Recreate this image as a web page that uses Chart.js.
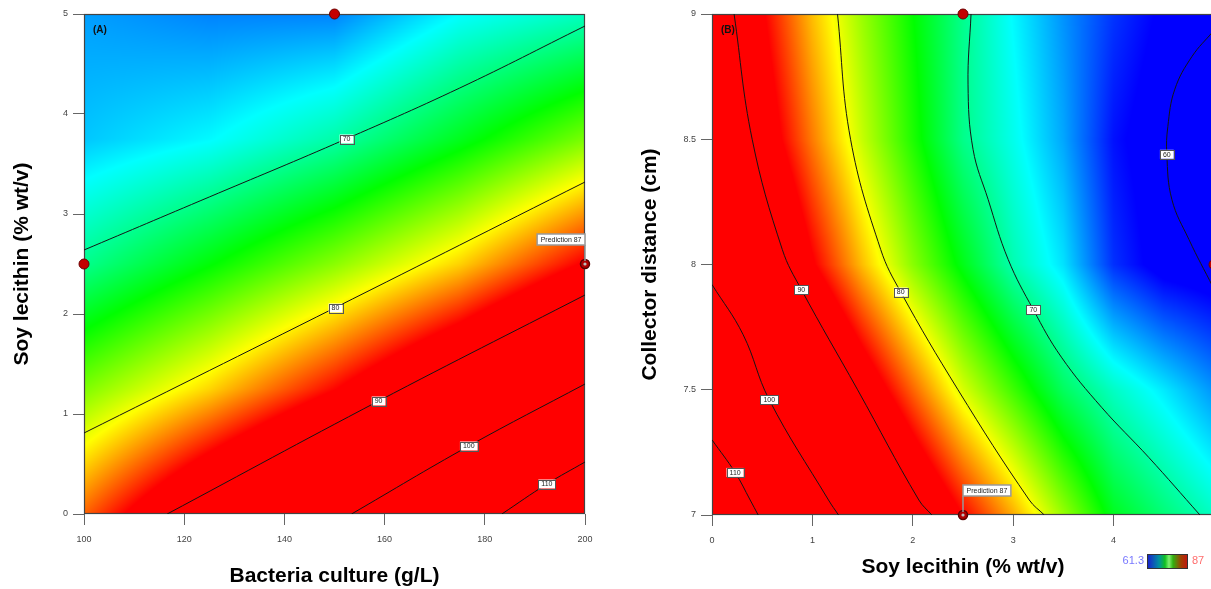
<!DOCTYPE html>
<html>
<head>
<meta charset="utf-8">
<script src="https://cdn.jsdelivr.net/npm/chart.js@4.4.1/dist/chart.umd.min.js"></script>
<style>
  html, body { margin: 0; padding: 0; background: #fff; overflow: hidden; width: 1211px; height: 589px; }
  #wrapA { position: absolute; left: 0; top: 0; width: 612px; height: 589px; }
  #wrapB { position: absolute; left: 620px; top: 0; width: 600px; height: 589px; }
</style>
</head>
<body>
<div id="wrapA"><canvas id="chartA"></canvas></div>
<div id="wrapB"><canvas id="chartB"></canvas></div>
<script>
// ---- panel (A): bacteria culture vs soy lecithin ----
const cultureA = [100, 125, 150, 175, 200];
const lecithinA = [0, 1.25, 2.5, 3.75, 5];
const yieldA = [
  [84.5, 92.3, 99.1, 107.2, 116.0],
  [77.3, 81.6, 86.9, 93.0, 99.7],
  [70.6, 74.0, 77.6, 81.7, 87.3],
  [66.3, 67.6, 69.9, 73.4, 77.2],
  [65.3, 64.6, 64.6, 67.7, 69.3]
];
const ticksAx = [100, 120, 140, 160, 180, 200];
const ticksAy = [0, 1, 2, 3, 4, 5];
const contourA70 = [[100, 2.64], [125, 3.17], [150, 3.70], [175, 4.26], [200, 4.88]];
const contourA80 = [[100, 0.81], [150, 2.06], [200, 3.32]];
const contourA90 = [[116.6, 0], [158.8, 1.13], [200, 2.19]];
const contourA100 = [[153.4, 0], [176.8, 0.68], [200, 1.30]];
const contourA110 = [[183.4, 0], [192.4, 0.30], [200, 0.52]];
const labelA_level = [70, 80, 90, 100, 110];
const labelA_x = [152.4, 150.2, 158.8, 176.8, 192.4];
const labelA_y = [3.75, 2.06, 1.13, 0.68, 0.30];
const designA_x = [150, 100];
const designA_y = [5, 2.5];
const predA_x = 200, predA_y = 2.5, predA_value = 87;

// ---- panel (B): soy lecithin vs collector distance ----
const lecithinB = [0, 0.5, 1, 1.5, 2, 2.5, 3, 3.5, 4, 4.5, 5];
const distanceB = [7, 7.5, 8, 8.5, 9];
const yieldB = [
  [115.7, 109.5, 103.3, 97.4, 91.7, 87.0, 82.7, 78.0, 73.4, 71.2, 69.2],
  [106.8, 100.3, 94.9, 89.5, 84.5, 79.6, 75.7, 71.8, 69.2, 67.2, 65.0],
  [99.0, 93.0, 87.3, 82.2, 77.6, 73.6, 69.7, 67.0, 62.5, 60.5, 60.0],
  [94.1, 89.0, 83.9, 79.1, 74.9, 70.7, 68.2, 65.5, 61.7, 60.1, 59.2],
  [92.3, 87.3, 82.2, 78.0, 74.2, 70.6, 67.6, 65.0, 62.6, 61.0, 60.1]
];
const ticksBx = [0, 1, 2, 3, 4];
const ticksBy = [7, 7.5, 8, 8.5, 9];
const contourB110 = [[0, 7.30], [0.23, 7.17], [0.38, 7.06], [0.46, 7.0]];
const contourB100 = [[0, 7.92], [0.31, 7.72], [0.57, 7.46], [1.16, 7.06], [1.26, 7.0]];
const contourB90 = [[0.22, 9], [0.40, 8.5], [0.70, 8.06], [0.89, 7.9], [1.45, 7.5], [2.06, 7.06], [2.19, 7.0]];
const contourB80 = [[1.25, 9], [1.38, 8.5], [1.68, 8.06], [1.88, 7.89], [2.45, 7.5], [3.16, 7.06], [3.31, 7.0]];
const contourB70 = [[2.58, 9], [2.55, 8.72], [2.60, 8.46], [2.75, 8.26], [2.95, 8.02], [3.20, 7.82], [3.48, 7.63], [3.88, 7.43], [4.35, 7.23], [4.86, 7.0]];
const contourB60 = [[4.99, 8.93], [4.78, 8.83], [4.61, 8.70], [4.54, 8.55], [4.53, 8.44], [4.58, 8.26], [4.75, 8.10], [4.99, 7.91]];
const labelB_level = [110, 100, 90, 80, 70, 60];
const labelB_x = [0.23, 0.57, 0.89, 1.88, 3.20, 4.53];
const labelB_y = [7.17, 7.46, 7.9, 7.89, 7.82, 8.44];
const designB_x = [2.5, 5];
const designB_y = [9, 8];
const predB_x = 2.5, predB_y = 7, predB_value = 87;

// colour scale limits
const scaleMin = 61.3, scaleMax = 87;

const FONT = "'Liberation Sans', Arial, sans-serif";

function yieldColor(v) {
  let t = (v - scaleMin) / (scaleMax - scaleMin);
  t = Math.max(0, Math.min(1, t));
  if (t < 0.25) return [0, 255 * t / 0.25, 255];
  if (t < 0.5) return [0, 255, 255 * (0.5 - t) / 0.25];
  if (t < 0.75) return [255 * (t - 0.5) / 0.25, 255, 0];
  return [255, 255 * (1 - t) / 0.25, 0];
}

function locate(arr, v) {
  let i = 0;
  while (i < arr.length - 2 && v > arr[i + 1]) i++;
  const t = (v - arr[i]) / (arr[i + 1] - arr[i]);
  return [i, Math.max(0, Math.min(1, t))];
}

function sample(xs, ys, grid, x, y) {
  const [i, tx] = locate(xs, x);
  const [j, ty] = locate(ys, y);
  const a = grid[j][i], b = grid[j][i + 1], c = grid[j + 1][i], d = grid[j + 1][i + 1];
  return (a * (1 - tx) + b * tx) * (1 - ty) + (c * (1 - tx) + d * tx) * ty;
}

const surfacePlugin = {
  id: 'surface',
  beforeDatasetsDraw(chart, args, opts) {
    const { ctx, chartArea: a, scales: { x, y } } = chart;
    const w = Math.round(a.right - a.left), h = Math.round(a.bottom - a.top);
    const off = document.createElement('canvas');
    off.width = w; off.height = h;
    const octx = off.getContext('2d');
    const img = octx.createImageData(w, h);
    for (let py = 0; py < h; py++) {
      const vy = y.getValueForPixel(a.top + py + 0.5);
      for (let px = 0; px < w; px++) {
        const vx = x.getValueForPixel(a.left + px + 0.5);
        const c = yieldColor(sample(opts.xs, opts.ys, opts.grid, vx, vy));
        const k = (py * w + px) * 4;
        img.data[k] = c[0]; img.data[k + 1] = c[1]; img.data[k + 2] = c[2]; img.data[k + 3] = 255;
      }
    }
    octx.putImageData(img, 0, 0);
    ctx.drawImage(off, a.left, a.top);
    // frame
    ctx.save();
    ctx.strokeStyle = '#444';
    ctx.lineWidth = 1.2;
    ctx.strokeRect(a.left + 0.5, a.top + 0.5, w - 1, h - 1);
    ctx.restore();
  },
  afterDatasetsDraw(chart, args, opts) {
    const { ctx, chartArea: a, scales: { x, y } } = chart;
    ctx.save();
    // contour labels
    ctx.font = '7px ' + FONT;
    ctx.textAlign = 'center';
    ctx.textBaseline = 'middle';
    opts.labels.level.forEach((lv, i) => {
      const px = x.getPixelForValue(opts.labels.x[i]);
      const py = y.getPixelForValue(opts.labels.y[i]);
      const tw = ctx.measureText(String(lv)).width + 6;
      ctx.fillStyle = '#fff';
      ctx.fillRect(px - tw / 2, py - 4.5, tw, 9);
      ctx.strokeStyle = '#555';
      ctx.lineWidth = 1;
      ctx.strokeRect(Math.round(px - tw / 2) + 0.5, Math.round(py - 4.5) + 0.5, Math.round(tw), 9);
      ctx.fillStyle = '#222';
      ctx.fillText(String(lv), px, py + 0.5);
    });
    // prediction flag
    const f = opts.flag;
    const fx = x.getPixelForValue(f.x), fy = y.getPixelForValue(f.y);
    const text = 'Prediction ' + f.value;
    const bw = ctx.measureText(text).width + 7, bh = 11;
    const bx = f.side === 'left' ? fx - bw : fx;
    const by = fy - 19 - bh;
    ctx.strokeStyle = '#999';
    ctx.lineWidth = 1.5;
    ctx.beginPath(); ctx.moveTo(fx, by + bh); ctx.lineTo(fx, fy - 3); ctx.stroke();
    ctx.fillStyle = '#fff';
    ctx.fillRect(bx, by, bw, bh);
    ctx.strokeRect(bx, by, bw, bh);
    ctx.fillStyle = '#222';
    ctx.textAlign = 'left';
    ctx.fillText(text, bx + 3.5, by + bh / 2 + 0.5);
    ctx.fillStyle = '#bbb';
    ctx.beginPath(); ctx.arc(fx, fy, 1.6, 0, Math.PI * 2); ctx.fill();
    // panel letter
    ctx.font = 'bold 10px ' + FONT;
    ctx.fillStyle = '#111';
    ctx.fillText(opts.letter, a.left + 9, a.top + 16);
    ctx.restore();
  },
  afterDraw(chart, args, opts) {
    if (!opts.colorbar) return;
    const { ctx } = chart;
    const cb = opts.colorbar;
    ctx.save();
    const g = ctx.createLinearGradient(cb.left, 0, cb.left + cb.width, 0);
    g.addColorStop(0, '#1a1ad0');
    g.addColorStop(0.3, '#0090a0');
    g.addColorStop(0.45, '#10c020');
    g.addColorStop(0.55, '#80f070');
    g.addColorStop(0.65, '#30b010');
    g.addColorStop(0.85, '#a04000');
    g.addColorStop(1, '#c01810');
    ctx.fillStyle = g;
    ctx.fillRect(cb.left, cb.top, cb.width, cb.height);
    ctx.strokeStyle = '#333';
    ctx.lineWidth = 1;
    ctx.strokeRect(cb.left + 0.5, cb.top + 0.5, cb.width, cb.height);
    ctx.font = '11px ' + FONT;
    ctx.textBaseline = 'middle';
    ctx.textAlign = 'right';
    ctx.fillStyle = '#7878ff';
    ctx.fillText(String(scaleMin), cb.left - 3, cb.top + cb.height / 2);
    ctx.textAlign = 'left';
    ctx.fillStyle = '#ff6e6e';
    ctx.fillText(String(scaleMax), cb.left + cb.width + 5, cb.top + cb.height / 2);
    ctx.restore();
  }
};

function axis(min, max, ticks, title, isY, size, titlePad) {
  return {
    type: 'linear',
    min: min,
    max: max,
    afterBuildTicks: s => { s.ticks = ticks.map(v => ({ value: v })); },
    afterFit: s => { if (isY) s.width = size; else s.height = size; },
    grid: { drawOnChartArea: false, drawTicks: true, tickLength: 11, color: '#666', lineWidth: 1 },
    border: { display: false },
    ticks: {
      font: { family: FONT, size: 9 },
      color: '#444',
      padding: isY ? 5 : 9,
      maxRotation: 0,
      autoSkip: false,
      callback: v => String(v)
    },
    title: {
      display: true,
      text: title,
      color: '#000',
      font: { family: FONT, size: 21, weight: 'bold' },
      padding: { top: titlePad, bottom: titlePad }
    }
  };
}

function toPoints(list) {
  return list.map(p => ({ x: p[0], y: p[1] }));
}

function contourSet(list) {
  return {
    type: 'line',
    data: toPoints(list),
    borderColor: '#151515',
    borderWidth: 1,
    pointRadius: 0,
    tension: 0.4,
    fill: false,
    showLine: true,
    order: 2
  };
}

function designSet(xs, ys) {
  return {
    data: xs.map((v, i) => ({ x: v, y: ys[i] })),
    pointRadius: 5,
    pointBackgroundColor: '#c40000',
    pointBorderColor: '#6a0000',
    pointBorderWidth: 1,
    showLine: false,
    clip: false,
    order: 0
  };
}

function predSet(px, py) {
  return {
    data: [{ x: px, y: py }],
    pointRadius: 4.5,
    pointBackgroundColor: '#b00000',
    pointBorderColor: '#5a0000',
    pointBorderWidth: 1.5,
    showLine: false,
    clip: false,
    order: 1
  };
}

const chartA = new Chart(document.getElementById('chartA'), {
  type: 'scatter',
  data: {
    datasets: [
      designSet(designA_x, designA_y),
      predSet(predA_x, predA_y),
      contourSet(contourA70),
      contourSet(contourA80),
      contourSet(contourA90),
      contourSet(contourA100),
      contourSet(contourA110)
    ]
  },
  options: {
    responsive: true,
    maintainAspectRatio: false,
    animation: false,
    events: [],
    layout: { padding: { top: 14, right: 27, left: 0, bottom: 0 } },
    scales: {
      x: axis(100, 200, ticksAx, 'Bacteria culture (g/L)', false, 75, 0),
      y: axis(0, 5, ticksAy, 'Soy lecithin (% wt/v)', true, 84, 9.4)
    },
    plugins: {
      legend: { display: false },
      tooltip: { enabled: false },
      surface: {
        xs: cultureA, ys: lecithinA, grid: yieldA,
        labels: { level: labelA_level, x: labelA_x, y: labelA_y },
        flag: { x: predA_x, y: predA_y, value: predA_value, side: 'left' },
        letter: '(A)'
      }
    }
  },
  plugins: [surfacePlugin]
});

const chartB = new Chart(document.getElementById('chartB'), {
  type: 'scatter',
  data: {
    datasets: [
      designSet(designB_x, designB_y),
      predSet(predB_x, predB_y),
      contourSet(contourB110),
      contourSet(contourB100),
      contourSet(contourB90),
      contourSet(contourB80),
      contourSet(contourB70),
      contourSet(contourB60)
    ]
  },
  options: {
    responsive: true,
    maintainAspectRatio: false,
    animation: false,
    events: [],
    layout: { padding: { top: 14, right: 6, left: 0, bottom: 0 } },
    scales: {
      x: axis(0, 5, ticksBx, 'Soy lecithin (% wt/v)', false, 74, 9.4),
      y: axis(7, 9, ticksBy, 'Collector distance (cm)', true, 92, 17.4)
    },
    plugins: {
      legend: { display: false },
      tooltip: { enabled: false },
      surface: {
        xs: lecithinB, ys: distanceB, grid: yieldB,
        labels: { level: labelB_level, x: labelB_x, y: labelB_y },
        flag: { x: predB_x, y: predB_y, value: predB_value, side: 'right' },
        letter: '(B)',
        colorbar: { left: 527, top: 554, width: 40, height: 14 }
      }
    }
  },
  plugins: [surfacePlugin]
});
</script>
</body>
</html>
